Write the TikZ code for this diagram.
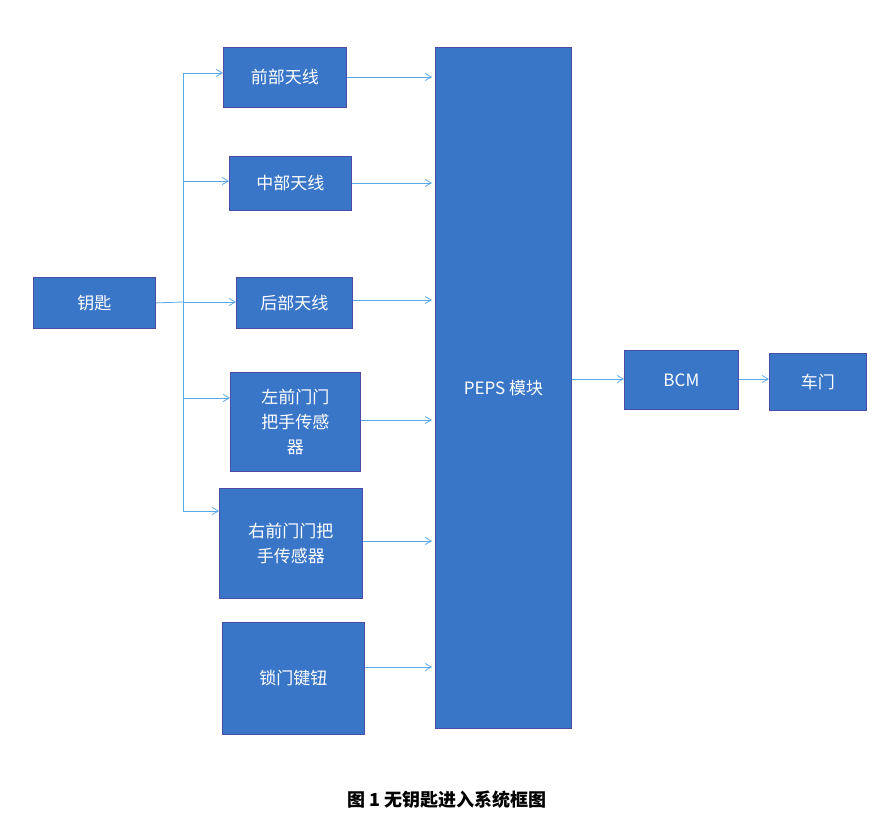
\documentclass[tikz,border=0pt]{standalone}
\usepackage{fontspec}
\newfontfamily\cjk{Noto Sans CJK SC}
\usetikzlibrary{arrows.meta}
\begin{document}
\begin{tikzpicture}[x=1pt,y=-1pt,
  blk/.style={draw=blue!50!black!70,line width=0.8pt,fill=blueA,text=white,font=\cjk\fontsize{17}{25}\selectfont,align=center,anchor=north west,inner sep=0pt},
  ln/.style={draw=lineB,line width=0.8pt},
  ar/.style={ln,-{Straight Barb[length=6pt,width=7pt]}}]
\definecolor{blueA}{HTML}{3A76C8}
\definecolor{lineB}{HTML}{5AA8E8}
\useasboundingbox (0,0) rectangle (883,833);
\newcommand\bx[6]{\node[blk,minimum width=#4-#2,minimum height=#5-#3] (#1) at (#2,#3) {#6};}
\bx{key}{33}{277}{155}{328}{钥匙}
\bx{a1}{223}{47}{346}{107}{前部天线}
\bx{a2}{229}{156}{351}{210}{中部天线}
\bx{a3}{236}{277}{352}{328}{后部天线}
\bx{s1}{230}{372}{360}{471}{左前门门\\把手传感\\器}
\bx{s2}{219}{488}{362}{598}{右前门门把\\手传感器}
\bx{lk}{222}{622}{364}{734}{锁门键钮}
\bx{peps}{435}{47}{571}{728}{PEPS 模块}
\bx{bcm}{624}{350}{738}{409}{BCM}
\bx{door}{769}{353}{866}{410}{车门}
\coordinate (t0) at (183,302);
\coordinate (tt) at (183,73);
\coordinate (tb) at (183,511);
\draw[ln] (key.east) -- (t0);
\draw[ln] (tt) -- (tb);
\draw[ar] (tt) -- (a1.west|-tt);
\draw[ar] (183,181) -- (a2.west|-{(0,181)});
\draw[ar] (t0) -- (a3.west|-t0);
\draw[ar] (183,398) -- (s1.west|-{(0,398)});
\draw[ar] (tb) -- (s2.west|-tb);
\foreach \n/\y in {a1/77,a2/183,a3/300,s1/420,s2/541,lk/667}
  \draw[ar] (\n.east|-{(0,\y)}) -- (432,\y);
\draw[ar] (peps.east|-{(0,379)}) -- (bcm.west|-{(0,379)});
\draw[ar] (bcm.east|-{(0,379)}) -- (door.west|-{(0,379)});
\node[font=\cjk\bfseries\fontsize{18}{22}\selectfont] (cap) at (447,800) {图 1 无钥匙进入系统框图};
\end{tikzpicture}
\end{document}
